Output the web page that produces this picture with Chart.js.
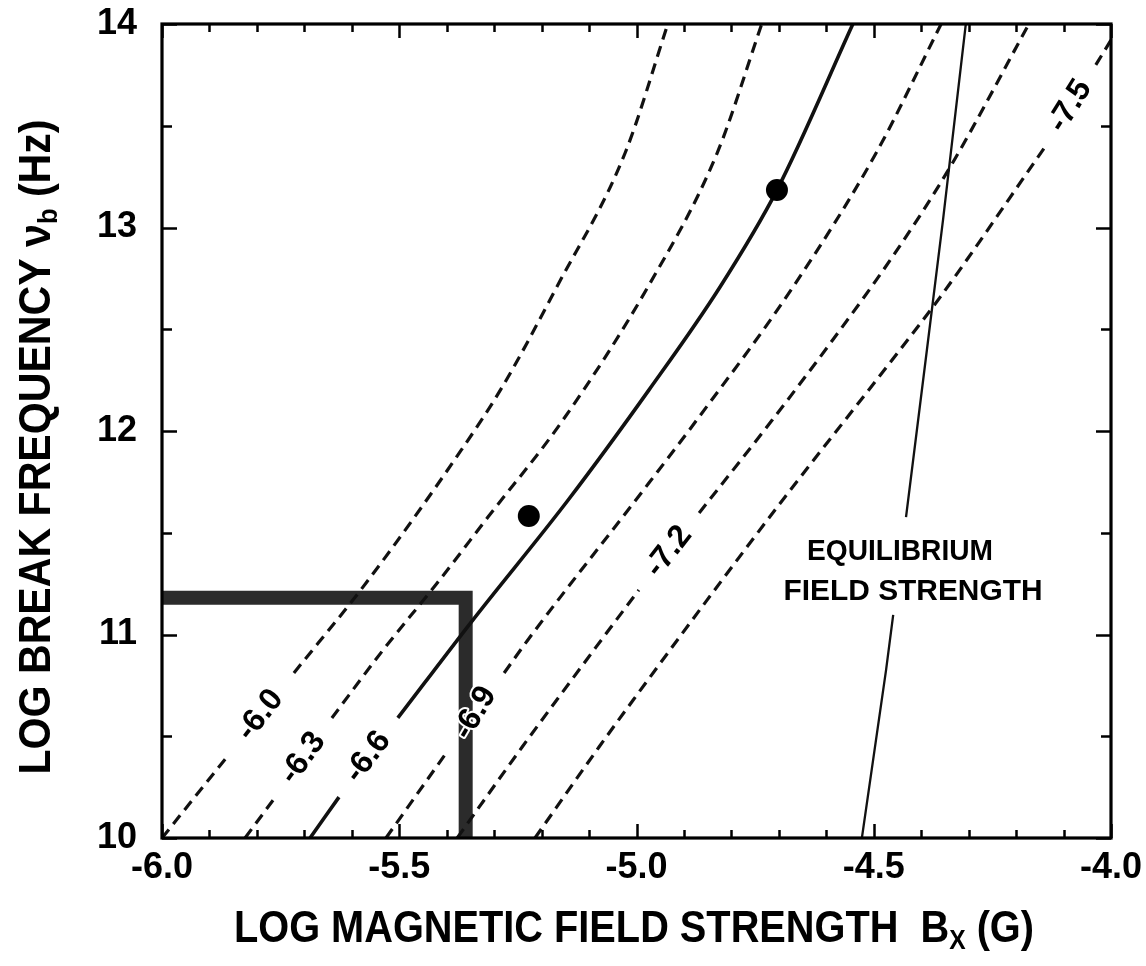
<!DOCTYPE html>
<html>
<head>
<meta charset="utf-8">
<script src="https://cdn.jsdelivr.net/npm/chart.js@4.4.1/dist/chart.umd.min.js"></script>
<style>
  html, body { margin: 0; padding: 0; background: #fff; }
  #wrap { width: 1146px; height: 966px; position: relative; }
</style>
</head>
<body>
<div id="wrap"><canvas id="c"></canvas></div>
<script>
// Break frequency vs. field strength: contours of constant log value,
// the equilibrium field strength, the allowed region and two measured sources.
// Each curve is a list of [log B (G), log nu_b (Hz)]; null breaks the curve where its label sits.
const contourM60 = [[-6.000,10.000],[-5.865,10.393],null,[-5.722,10.811],[-5.570,11.253],[-5.372,11.897],[-5.283,12.216],[-5.168,12.708],[-5.024,13.366],[-4.934,14.000]];
const contourM63 = [[-5.825,10.000],[-5.764,10.192],null,[-5.642,10.590],[-5.534,10.924],[-5.420,11.253],[-5.313,11.577],[-5.155,12.054],[-4.976,12.708],[-4.830,13.366],[-4.736,14.000]];
const contourM66 = [[-5.688,10.000],[-5.627,10.201],null,[-5.503,10.590],[-5.345,11.071],[-5.144,11.661],[-4.974,12.201],[-4.824,12.708],[-4.704,13.184],[-4.544,14.000]];
const contourM69 = [[-5.528,10.000],[-5.401,10.418],null,[-5.279,10.811],[-5.229,10.973],[-4.974,11.744],[-4.873,12.054],[-4.670,12.708],[-4.495,13.366],[-4.358,14.000]];
const contourM72 = [[-5.378,10.000],[-5.241,10.447],[-5.085,10.939],[-4.995,11.219],null,[-4.868,11.597],[-4.714,12.054],[-4.599,12.408],[-4.455,12.875],[-4.339,13.297],[-4.173,14.000]];
const contourM75 = [[-5.214,10.000],[-5.079,10.447],[-5.007,10.678],[-4.851,11.170],[-4.687,11.676],[-4.445,12.398],[-4.360,12.658],[-4.139,13.396],null,[-4.032,13.799],[-4.000,13.921]];
const equilibrium = [[-4.525,10.000],[-4.474,10.826],[-4.459,11.096],null,[-4.432,11.577],[-4.388,12.398],[-4.354,13.037],[-4.306,14.000]];
const allowedRegion = [[-6.00,11.18],[-5.36,11.18],[-5.36,10.00]];
const sources = [[-5.227,11.582],[-4.704,13.184]];

const contourNames = ['-6.0', '-6.3', '-6.6', '-6.9', '-7.2', '-7.5'];
const contourLabelAt = [[-5.793,10.604],[-5.703,10.393],[-5.566,10.398],[-5.340,10.614],[-4.932,11.408],[-4.086,13.597]];
const contourLabelAngle = [-52, -54, -53, -60, -52, -58];

const xTicks = [-6.0, -5.5, -5.0, -4.5, -4.0];
const yTicks = [10, 11, 12, 13, 14];

const FONT = '"Liberation Sans", Arial, Helvetica, sans-serif';
const INK = '#111';

const pts = arr => arr.map(p => p ? { x: p[0], y: p[1] } : { x: null, y: null });

function curve(data, dashed, width, smooth) {
  return {
    data: pts(data),
    showLine: true,
    borderColor: INK,
    borderWidth: width,
    borderDash: dashed ? [11, 7] : [],
    pointRadius: 0,
    cubicInterpolationMode: smooth ? 'monotone' : 'default',
    tension: smooth ? 0.4 : 0,
    spanGaps: false,
    fill: false,
    order: 2
  };
}

const datasets = [
  {
    data: pts(allowedRegion), showLine: true, borderColor: '#2b2b2b', borderWidth: 14,
    borderJoinStyle: 'miter', borderCapStyle: 'butt', pointRadius: 0, tension: 0, clip: 0, order: 5
  },
  curve(contourM60, true, 3.2, true),
  curve(contourM63, true, 3.2, true),
  curve(contourM66, false, 3.6, true),
  curve(contourM69, true, 3.2, true),
  curve(contourM72, true, 3.2, true),
  curve(contourM75, true, 3.2, true),
  curve(equilibrium, false, 2.3, false),
  {
    data: pts(sources), showLine: false, pointRadius: 11, pointBackgroundColor: '#000',
    pointBorderWidth: 0, order: 1
  }
];

function richWidth(ctx, parts, size) {
  let w = 0;
  parts.forEach(p => {
    ctx.font = `bold ${p.sub ? size * 0.62 : size}px ${FONT}`;
    p.w = ctx.measureText(p.t).width;
    w += p.w;
  });
  return w;
}

// draws text centred on the origin, baseline at y = 0, squeezed to the given width
function drawRich(ctx, parts, size, targetW) {
  const w = richWidth(ctx, parts, size);
  const k = targetW ? targetW / w : 1;
  ctx.save();
  ctx.scale(k, 1);
  ctx.textAlign = 'left';
  ctx.textBaseline = 'alphabetic';
  let x = -w / 2;
  parts.forEach(p => {
    ctx.font = `bold ${p.sub ? size * 0.62 : size}px ${FONT}`;
    ctx.fillText(p.t, x, p.sub ? size * 0.16 : 0);
    x += p.w;
  });
  ctx.restore();
}

const decorations = {
  id: 'decorations',
  afterDatasetsDraw(chart) {
    const { ctx, chartArea: a, scales: { x, y } } = chart;
    ctx.save();
    ctx.fillStyle = '#000';
    ctx.strokeStyle = '#000';

    // inward tick marks on all four sides
    ctx.lineWidth = 2.5;
    ctx.beginPath();
    for (let i = 0; i <= 20; i++) {
      const px = Math.round(x.getPixelForValue(-6 + i * 0.1)) + 0.5;
      const len = i % 5 === 0 ? 14 : 8;
      ctx.moveTo(px, a.bottom); ctx.lineTo(px, a.bottom - len);
      ctx.moveTo(px, a.top); ctx.lineTo(px, a.top + len);
    }
    for (let i = 0; i <= 8; i++) {
      const py = Math.round(y.getPixelForValue(10 + i * 0.5)) + 0.5;
      const len = i % 2 === 0 ? 15 : 10;
      ctx.moveTo(a.left, py); ctx.lineTo(a.left + len, py);
      ctx.moveTo(a.right, py); ctx.lineTo(a.right - len, py);
    }
    ctx.stroke();

    // frame
    ctx.lineWidth = 3.2;
    ctx.strokeRect(a.left, a.top, a.right - a.left, a.bottom - a.top);

    // contour labels
    ctx.font = `bold 32px ${FONT}`;
    ctx.textAlign = 'center';
    ctx.textBaseline = 'middle';
    contourNames.forEach((name, i) => {
      const px = x.getPixelForValue(contourLabelAt[i][0]);
      const py = y.getPixelForValue(contourLabelAt[i][1]);
      ctx.save();
      ctx.translate(px, py);
      ctx.rotate(contourLabelAngle[i] * Math.PI / 180);
      ctx.lineWidth = 4;
      ctx.strokeStyle = '#fff';
      ctx.lineJoin = 'round';
      ctx.strokeText(name, 0, 0);
      ctx.fillStyle = '#000';
      ctx.fillText(name, 0, 0);
      ctx.restore();
    });

    // equilibrium annotation
    ctx.fillStyle = '#000';
    ctx.save(); ctx.translate(900, 560); drawRich(ctx, [{ t: 'EQUILIBRIUM' }], 30, 186); ctx.restore();
    ctx.save(); ctx.translate(913, 600); drawRich(ctx, [{ t: 'FIELD STRENGTH' }], 30, 259); ctx.restore();

    // axis titles
    ctx.save();
    ctx.translate(50, 447);
    ctx.rotate(-Math.PI / 2);
    drawRich(ctx, [{ t: 'LOG BREAK FREQUENCY ν' }, { t: 'b', sub: true }, { t: ' (Hz)' }], 44, 655);
    ctx.restore();

    ctx.save();
    ctx.translate(634, 942);
    drawRich(ctx, [{ t: 'LOG MAGNETIC FIELD STRENGTH  B' }, { t: 'X', sub: true }, { t: ' (G)' }], 44, 800);
    ctx.restore();

    ctx.restore();
  }
};

const zeroPad = s => { s.paddingLeft = 0; s.paddingRight = 0; s.paddingTop = 0; s.paddingBottom = 0; };

new Chart(document.getElementById('c'), {
  type: 'scatter',
  data: { datasets },
  options: {
    responsive: true,
    maintainAspectRatio: false,
    animation: false,
    events: [],
    layout: { padding: { left: 0, right: 35, top: 24, bottom: 0 } },
    plugins: { legend: { display: false }, tooltip: { enabled: false } },
    scales: {
      x: {
        type: 'linear', min: -6, max: -4, position: 'bottom',
        grid: { display: false, drawTicks: false },
        border: { display: false },
        afterBuildTicks: s => { s.ticks = xTicks.map(v => ({ value: v })); },
        afterFit: s => { s.height = 128; zeroPad(s); },
        ticks: {
          callback: v => v.toFixed(1), color: '#000', padding: 8, maxRotation: 0, autoSkip: false,
          font: { family: FONT, size: 36, weight: 'bold' }
        }
      },
      y: {
        type: 'linear', min: 10, max: 14, position: 'left',
        grid: { display: false, drawTicks: false },
        border: { display: false },
        afterBuildTicks: s => { s.ticks = yTicks.map(v => ({ value: v })); },
        afterFit: s => { s.width = 162; zeroPad(s); },
        ticks: {
          callback: v => String(v), color: '#000', padding: 25, autoSkip: false,
          font: { family: FONT, size: 36, weight: 'bold' }
        }
      }
    }
  },
  plugins: [decorations]
});
</script>
</body>
</html>
